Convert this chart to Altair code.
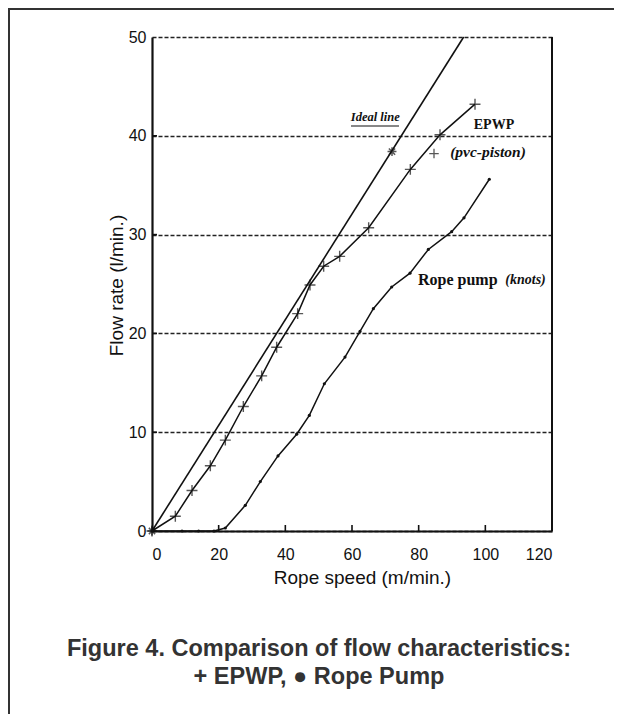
import altair as alt
import pandas as pd

# ---------------- data ----------------
ideal_x = [0, 93.5]
ideal_y = [0, 50]

epwp_x = [0, 7, 12, 17.5, 22, 27.4, 32.9, 37.4, 43.7, 47.4, 51.5, 56.3, 65, 77.5, 86.4, 96.9]
epwp_y = [0, 1.5, 4.1, 6.6, 9.2, 12.6, 15.7, 18.6, 22.0, 24.9, 26.8, 27.8, 30.7, 36.6, 40.1, 43.2]

epwp_extra_x = [84.6]
epwp_extra_y = [38.2]

star_x = [0, 72]
star_y = [0, 38.4]

rope_x = [0, 9, 14, 18.6, 22, 28, 32.5, 37.8, 43.4, 47.2, 51.7, 57.9, 62.4, 66.4, 71.9, 77.4, 82.9, 89.9, 93.6, 101.2]
rope_y = [0, 0, 0, 0, 0.3, 2.6, 5.0, 7.6, 9.8, 11.7, 14.9, 17.6, 20.2, 22.5, 24.7, 26.1, 28.5, 30.3, 31.7, 35.6]

x_ticks = [20, 40, 60, 80, 100]
y_ticks = [10, 20, 30, 40]

label_text = ["Ideal line", "EPWP", "(pvc-piston)", "Rope pump", "(knots)"]
label_x = [67, 102.6, 100.8, 79.8, 106.0]
label_y = [41.9, 41.1, 38.4, 25.4, 25.4]

caption = ["Figure 4. Comparison of flow characteristics:", "+ EPWP, \u25cf Rope Pump"]

# ---------------- tables ----------------
ideal_df = pd.DataFrame({"x": ideal_x, "y": ideal_y})
epwp_df = pd.DataFrame({"x": epwp_x, "y": epwp_y})
epwp_extra_df = pd.DataFrame({"x": epwp_extra_x, "y": epwp_extra_y})
star_df = pd.DataFrame({"x": star_x, "y": star_y})
rope_df = pd.DataFrame({"x": rope_x, "y": rope_y})
xt_df = pd.DataFrame({"x": x_ticks})
yt_df = pd.DataFrame({"y": y_ticks})
lab_df = pd.DataFrame({"t": label_text, "x": label_x, "y": label_y})

W, H = 400, 494
INK = "#111111"

xs = alt.Scale(domain=[0, 120], nice=False, zero=False)
ys = alt.Scale(domain=[0, 50], nice=False, zero=False)

x_enc = alt.X("x:Q", scale=xs, axis=alt.Axis(
    values=[0, 20, 40, 60, 80, 100, 120], grid=False, ticks=False, tickSize=0,
    labelPadding=15, labelFontSize=16, labelFont="Liberation Sans", labelColor=INK,
    domainColor=INK, domainWidth=2.2,
    title="Rope speed (m/min.)", titleFont="Liberation Sans", titleFontSize=19,
    titleFontWeight="normal", titleColor=INK, titleX=210, titleY=37, titleBaseline="top"))
y_enc = alt.Y("y:Q", scale=ys, axis=alt.Axis(
    values=[0, 10, 20, 30, 40, 50], grid=True, gridDash=[4, 2], gridColor="#222222",
    gridWidth=1.4, ticks=False, tickSize=0,
    labelPadding=6, labelFontSize=16, labelFont="Liberation Sans", labelColor=INK,
    domainColor=INK, domainWidth=2.2,
    title="Flow rate (l/min.)", titleFont="Liberation Sans", titleFontSize=19,
    titleFontWeight="normal", titleColor=INK, titleX=-26, titleY=248, titleAngle=-90))

base_axes = alt.Chart(ideal_df).mark_line(strokeWidth=0, opacity=0).encode(x=x_enc, y=y_enc)

ideal = alt.Chart(ideal_df).mark_line(color=INK, strokeWidth=1.6).encode(x="x:Q", y="y:Q")
epwp_line = alt.Chart(epwp_df).mark_line(color=INK, strokeWidth=1.5).encode(x="x:Q", y="y:Q")
rope_line = alt.Chart(rope_df).mark_line(color=INK, strokeWidth=1.5).encode(x="x:Q", y="y:Q")

PLUS = "M-1,0L1,0M0,-1L0,1"
STAR = "M-1,0L1,0M0,-1L0,1M-0.7,-0.7L0.7,0.7M-0.7,0.7L0.7,-0.7"

epwp_pts = alt.Chart(epwp_df).mark_point(shape=PLUS, size=120, filled=False,
                                          stroke=INK, strokeWidth=1.4).encode(x="x:Q", y="y:Q")
epwp_extra = alt.Chart(epwp_extra_df).mark_point(shape=PLUS, size=90, filled=False,
                                                 stroke=INK, strokeWidth=1.3).encode(x="x:Q", y="y:Q")
stars = alt.Chart(star_df).mark_point(shape=STAR, size=80, filled=False,
                                      stroke=INK, strokeWidth=1.5).encode(x="x:Q", y="y:Q")
rope_pts = alt.Chart(rope_df).mark_circle(size=10, color=INK, opacity=1).encode(x="x:Q", y="y:Q")

# inward ticks
xticks = alt.Chart(xt_df).mark_rule(color=INK, strokeWidth=1.6).encode(
    x="x:Q", y=alt.value(H), y2=alt.value(H - 6))
yticks = alt.Chart(yt_df).mark_rule(color=INK, strokeWidth=1.6).encode(
    y="y:Q", x=alt.value(0), x2=alt.value(5))

# right border of the plot
right_border = alt.Chart(xt_df).mark_rule(color=INK, strokeWidth=2).encode(
    x=alt.value(W), y=alt.value(0), y2=alt.value(H))

# annotation labels
def lab(i, **kw):
    d = lab_df.iloc[[i]]
    return alt.Chart(d).mark_text(color=INK, font="Liberation Serif", **kw).encode(
        x="x:Q", y="y:Q", text="t:N")

l_ideal = lab(0, fontSize=12.5, fontWeight="bold", fontStyle="italic")
ideal_ul = alt.Chart(lab_df.iloc[[0]]).mark_rule(color=INK, strokeWidth=1.2).encode(
    x=alt.value(199), x2=alt.value(247), y=alt.value(89))
l_epwp = lab(1, fontSize=14, fontWeight="bold")
l_pvc = lab(2, fontSize=15.5, fontWeight="bold", fontStyle="italic")
l_rope = lab(3, fontSize=16, fontWeight="bold", align="left")
l_knots = lab(4, fontSize=14, fontWeight="bold", fontStyle="italic", align="left")

# caption
cap_df = pd.DataFrame({"t": caption, "row": [0, 1]})
cap1 = alt.Chart(cap_df.iloc[[0]]).mark_text(
    font="Liberation Sans", fontSize=23.5, fontWeight="bold", color="#333333").encode(
    text="t:N", x=alt.value(167), y=alt.value(H + 118))
cap2 = alt.Chart(cap_df.iloc[[1]]).mark_text(
    font="Liberation Sans", fontSize=23.5, fontWeight="bold", color="#333333").encode(
    text="t:N", x=alt.value(167), y=alt.value(H + 146))

# outer frame (left and top edges of the figure box)
frame_left = alt.Chart(cap_df.iloc[[0]]).mark_rule(color="#333333", strokeWidth=2).encode(
    x=alt.value(-143), y=alt.value(-28), y2=alt.value(H + 200))
frame_top = alt.Chart(cap_df.iloc[[0]]).mark_rule(color="#333333", strokeWidth=2).encode(
    y=alt.value(-28), x=alt.value(-144), x2=alt.value(470))

chart = alt.layer(
    base_axes, ideal, epwp_line, rope_line, epwp_pts, epwp_extra, stars, rope_pts,
    xticks, yticks, right_border, l_ideal, ideal_ul, l_epwp, l_pvc, l_rope, l_knots,
    cap1, cap2, frame_left, frame_top
).properties(
    width=W, height=H,
    autosize=alt.AutoSizeParams(type="none"),
    padding={"left": 144, "top": 29, "right": 62, "bottom": 183},
    background="white",
).configure_view(stroke=None)

chart.save("out.html", embed_options={"renderer": "svg", "actions": False})
